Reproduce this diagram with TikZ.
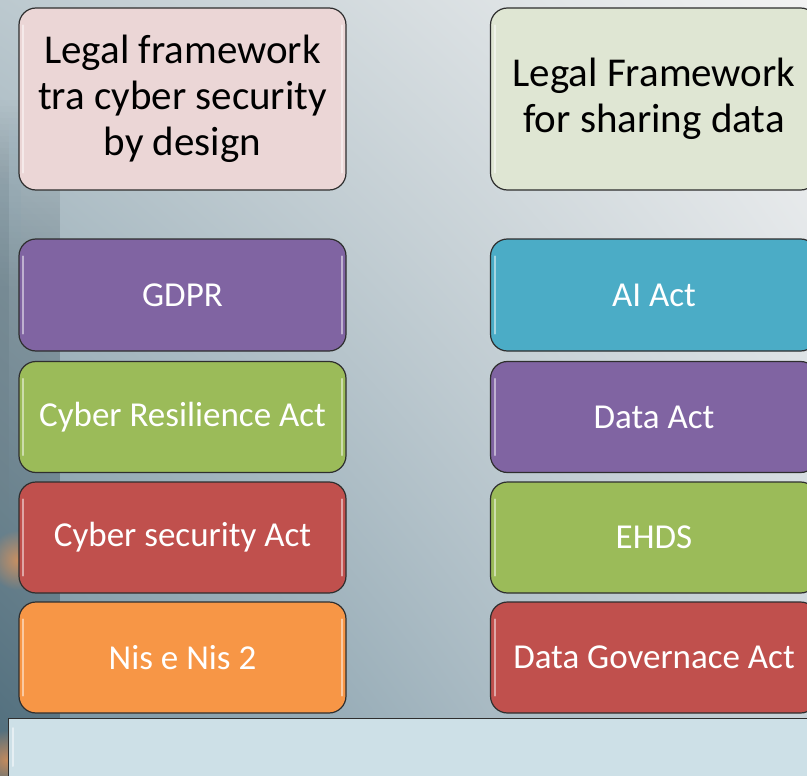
\documentclass[tikz,border=0pt]{standalone}
\usepackage{fontspec}
\setmainfont{Carlito}
\usetikzlibrary{fadings,shadings}
\definecolor{bgTL}{HTML}{BCC9CF}
\definecolor{bgTR}{HTML}{F2F2F2}
\definecolor{bgBL}{HTML}{6F8D9C}
\definecolor{bgBR}{HTML}{C6D1D7}
\definecolor{pinkbox}{HTML}{EBD6D6}
\definecolor{sagebox}{HTML}{DFE6D3}
\definecolor{lawpurple}{HTML}{8064A2}
\definecolor{lawgreen}{HTML}{9BBB59}
\definecolor{lawred}{HTML}{C0504D}
\definecolor{laworange}{HTML}{F79646}
\definecolor{lawblue}{HTML}{4BACC6}
\definecolor{basebar}{HTML}{CDE0E7}
\definecolor{edge}{HTML}{2E2E2E}
\colorlet{haze}{bgBL!70!black}
\tikzfading[name=softspot, inner color=transparent!35, outer color=transparent!100]
\tikzset{
  card/.style={draw=edge, line width=1.2pt, rounded corners=17pt,
    minimum width=327pt, align=center, inner sep=0pt},
  headcard/.style={card, minimum height=182pt, text=black,
    font=\fontsize{41}{46}\selectfont},
  lawcard/.style={card, minimum height=111pt, text=white,
    font=\fontsize{35}{40}\selectfont},
  gloss/.style={white, opacity=0.5, line width=2pt, line cap=round}
}
\newcommand{\glossy}[1]{%
  \draw[gloss] ([xshift=5pt,yshift=-18pt]#1.north west) -- ([xshift=5pt,yshift=18pt]#1.south west);
  \draw[gloss] ([xshift=-5pt,yshift=-18pt]#1.north east) -- ([xshift=-5pt,yshift=18pt]#1.south east);
}
\begin{document}
\begin{tikzpicture}[x=1pt,y=-1pt]
\useasboundingbox (0,0) rectangle (807,776);
\clip (0,0) rectangle (807,776);
% backdrop
\shade[upper left=bgTL, upper right=bgTR, lower left=bgBL, lower right=bgBR]
  (0,0) rectangle (807,776);
% darker haze along the left edge: fine layers thinning out rightwards and upwards
\foreach \i in {0,...,29}{
  \pgfmathsetmacro{\op}{0.016*(1-\i/30)^2}
  \foreach \j in {0,...,31}{
    \fill[haze, opacity=\op] (3*\i,100+6*\j) rectangle (3*\i+3,776);
  }
}
\fill[color=orange!60!pink, path fading=softspot] (18,560) circle (30);
\fill[color=orange!60!pink, path fading=softspot] (6,760) circle (30);

% headers
\node[headcard, fill=pinkbox] (secdesign) at (182.5,99)
  {Legal framework\\tra cyber security\\by design};
\node[headcard, fill=sagebox] (sharing) at (654,99)
  {Legal Framework\\for sharing data};

% left column
\node[lawcard, fill=lawpurple, minimum height=112pt] (gdpr) at (182.5,295) {GDPR};
\node[lawcard, fill=lawgreen] (cra) at (182.5,417) {Cyber Resilience Act};
\node[lawcard, fill=lawred] (csa) at (182.5,537.5) {Cyber security Act};
\node[lawcard, fill=laworange] (nis) at (182.5,657.5) {Nis e Nis 2};

% right column
\node[lawcard, fill=lawblue, minimum height=112pt] (aiact) at (654,295) {AI Act};
\node[lawcard, fill=lawpurple] (dataact) at (654,417) {Data Act};
\node[lawcard, fill=lawgreen] (ehds) at (654,537.5) {EHDS};
\node[lawcard, fill=lawred] (dga) at (654,657.5) {Data Governace Act};

% base bar
\node[draw=edge, line width=1.2pt, fill=basebar, minimum width=830pt,
  minimum height=90pt, anchor=north west, inner sep=0pt] (base) at (8,718) {};

\foreach \n in {secdesign,sharing,gdpr,cra,csa,nis,aiact,dataact,ehds,dga}{\glossy{\n}}
\draw[gloss] ([xshift=5pt,yshift=-10pt]base.north west) -- ([xshift=5pt,yshift=-48pt]base.north west);
\end{tikzpicture}
\end{document}
